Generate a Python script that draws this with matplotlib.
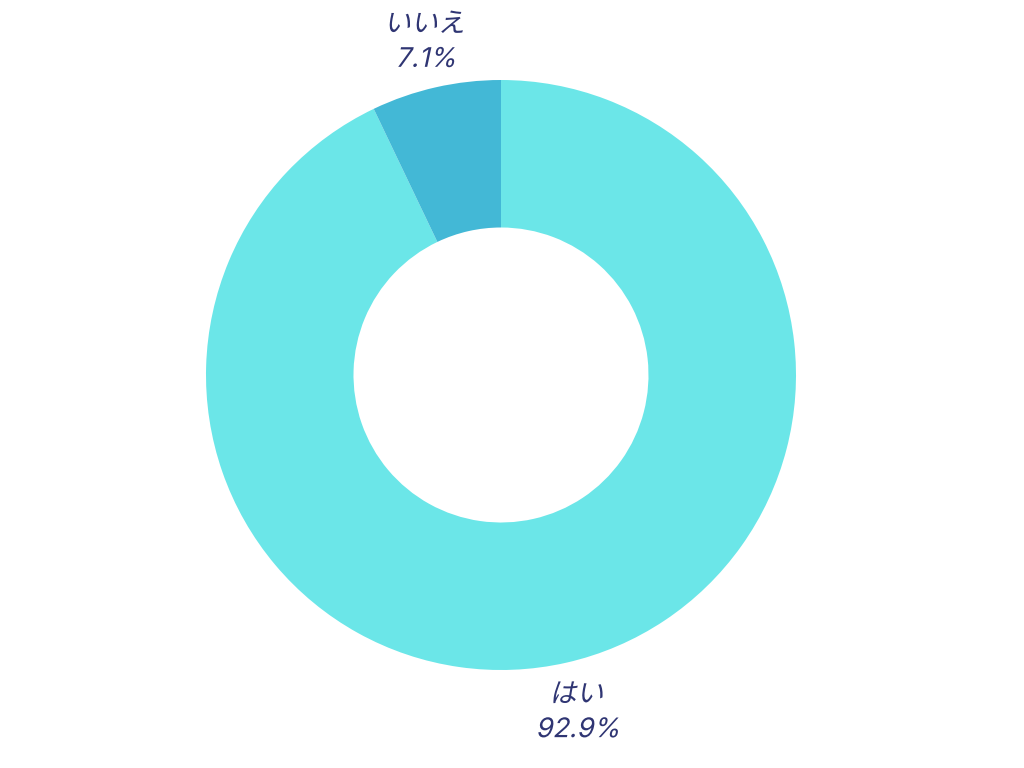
import matplotlib

matplotlib.use("Agg")
import matplotlib.pyplot as plt
import numpy as np
from matplotlib.font_manager import FontProperties
from matplotlib.patches import PathPatch
from matplotlib.textpath import TextPath
from matplotlib.transforms import Affine2D

labels = ["はい", "いいえ"]
values = [92.9, 7.1]
colors = ["#6be6e8", "#43b8d6"]
TEXT_COLOR = "#2f3573"

FONT = FontProperties(family=["Inter", "Noto Sans CJK JP", "DejaVu Sans"])
FONT_PX = 27
SLANT = 12  # degrees, faux italic


def slanted_text(fig, x, y, s):
    """Draw s centred at display (x, baseline y) with an oblique slant."""
    tp = TextPath((0, 0), s, size=FONT_PX, prop=FONT)
    ext = tp.get_extents()
    cx = (ext.x0 + ext.x1) / 2
    tr = (Affine2D().translate(-cx, 0).skew_deg(SLANT, 0).translate(x, y))
    fig.patches.append(PathPatch(tr.transform_path(tp), facecolor=TEXT_COLOR,
                                 edgecolor="none", transform=None, figure=fig))


fig = plt.figure(figsize=(10.24, 7.68), dpi=100)
ax = fig.add_axes([0, 0, 1, 1])
ax.set_aspect("equal")
ax.axis("off")

wedges, _ = ax.pie(
    values,
    colors=colors,
    startangle=90,
    counterclock=False,
    radius=1.0,
    wedgeprops={"width": 0.5, "linewidth": 0},
)

# unit radius = 295 px, centre at (501, 375) from top-left
u = 295
ax.set_xlim(-501 / u, (1024 - 501) / u)
ax.set_ylim(-(768 - 375) / u, 375 / u)
fig.canvas.draw()

for w, lab, v in zip(wedges, labels, values):
    mid = np.deg2rad((w.theta1 + w.theta2) / 2)
    r = 1.165
    px, py = ax.transData.transform((r * np.cos(mid), r * np.sin(mid)))
    slanted_text(fig, px, py + 8, lab)
    slanted_text(fig, px, py - 27, f"{v:.1f}%")

fig.savefig("out.png", dpi=100)
